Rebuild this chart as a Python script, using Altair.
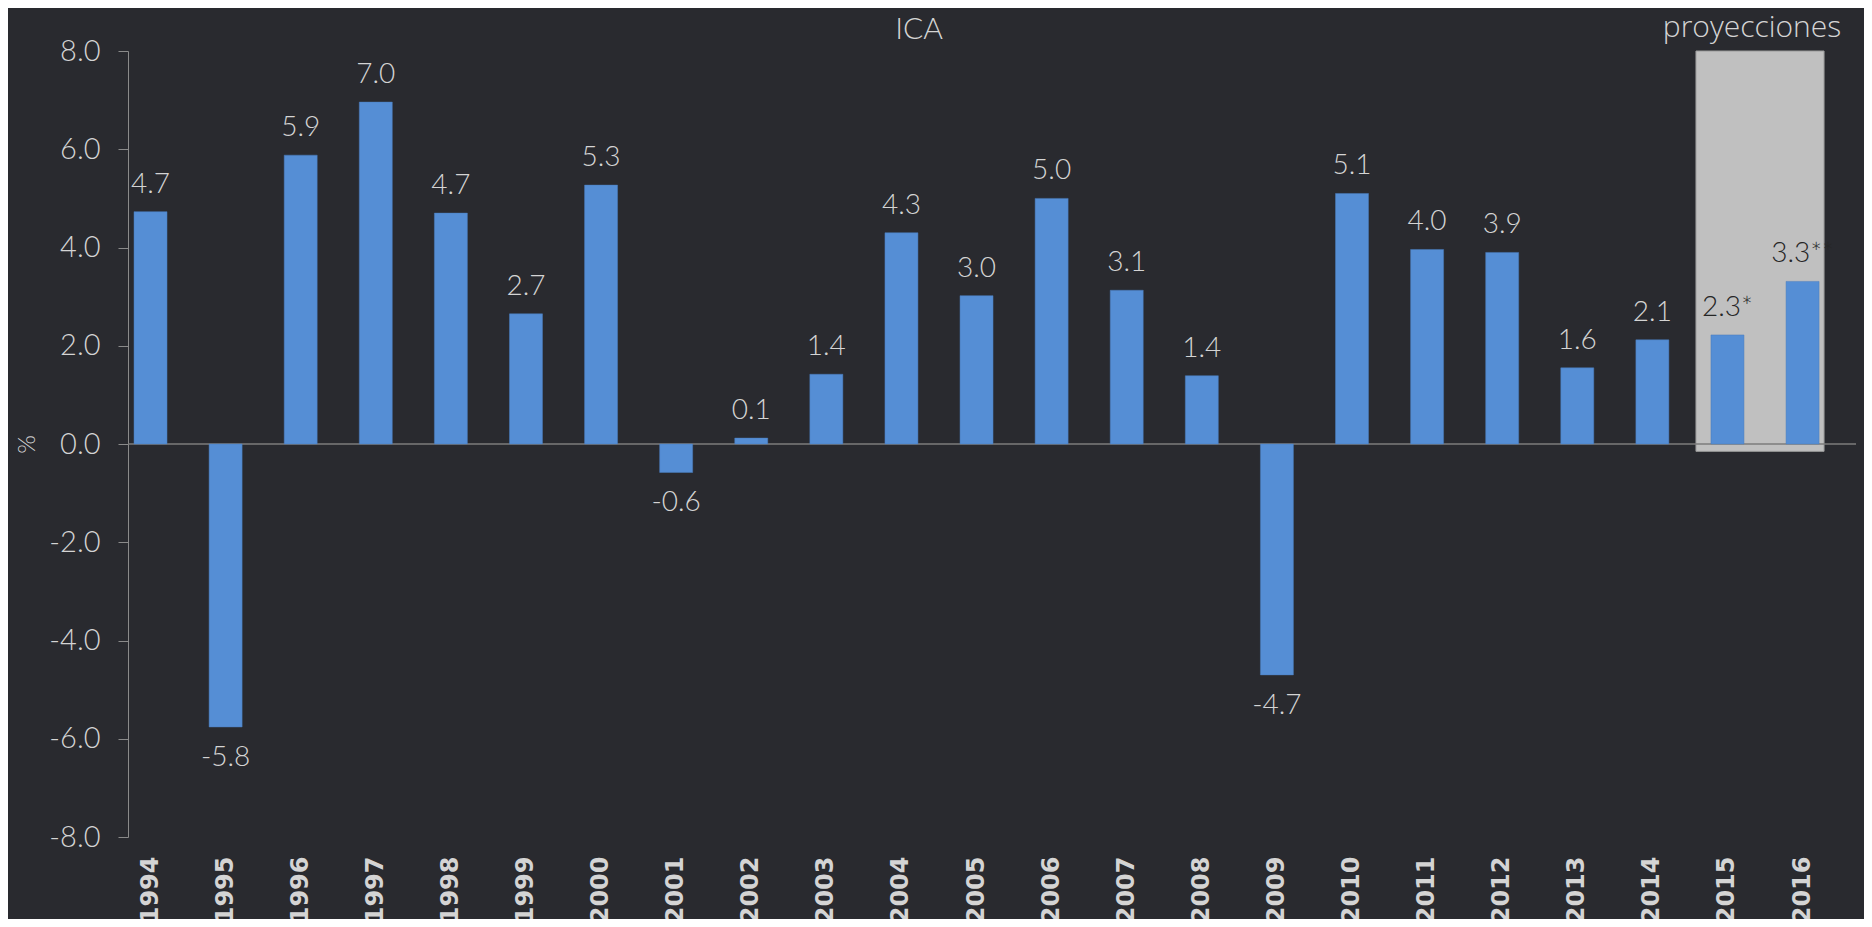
import altair as alt
import pandas as pd

years = [str(y) for y in range(1994, 2017)]
values = [4.73, -5.76, 5.88, 6.96, 4.70, 2.65, 5.27, -0.58, 0.12, 1.42, 4.30, 3.02,
          5.00, 3.13, 1.39, -4.70, 5.10, 3.96, 3.90, 1.55, 2.12, 2.22, 3.31]
labels = ["4.7", "-5.8", "5.9", "7.0", "4.7", "2.7", "5.3", "-0.6", "0.1", "1.4", "4.3", "3.0",
          "5.0", "3.1", "1.4", "-4.7", "5.1", "4.0", "3.9", "1.6", "2.1", "2.3*", "3.3**"]
projected = [False] * 21 + [True, True]

y_ticks = [-8, -6, -4, -2, 0, 2, 4, 6, 8]

BG = "#292a2f"
BAR = "#558ed5"
LIGHT = "#d4d4d4"
DARK = "#262626"

df = pd.DataFrame({
    "year": years,
    "value": values,
    "label": labels,
    "tcolor": [DARK if p else LIGHT for p in projected],
})

box = pd.DataFrame({"year": ["2015"], "year2": ["2016"], "top": [8.0], "bottom": [-0.15]})
notes = pd.DataFrame({"title": ["ICA"], "proj": ["proyecciones"]})

W, H = 1728, 786

xscale = alt.Scale(domain=years, paddingInner=0.5605, paddingOuter=0.286, align=0.14)
yscale = alt.Scale(domain=[-8, 8], nice=False, zero=False)

xaxis = alt.Axis(title=None, labelAngle=-90, labelFont="DejaVu Sans", labelFontWeight="bold",
                 labelFontSize=24, labelColor=LIGHT, ticks=False, domain=False,
                 labelPadding=19, grid=False)
yaxis = alt.Axis(title="%", values=y_ticks,
                 labelExpr="replace(format(datum.value, '.1f'), '\u2212', '-')",
                 labelFont="Lato", labelFontWeight=300,
                 labelFontSize=29, labelColor=LIGHT, tickColor="#8a8a8a", tickSize=10,
                 domainColor="#8a8a8a", domainWidth=1, labelPadding=18, grid=False,
                 titleFont="Lato", titleFontSize=24, titleFontWeight=300, titleColor=LIGHT,
                 titleX=-101, titleY=H / 2, titleAngle=-90, titleAlign="center",
                 titleBaseline="middle")

base = alt.Chart(df)

shade = alt.Chart(box).mark_rect(fill="#c0c0c0", stroke="#9a9a9a", strokeWidth=1,
                                 xOffset=-15, x2Offset=5).encode(
    x=alt.X("year:N", scale=xscale, axis=xaxis, bandPosition=0),
    x2=alt.X2("year2:N", bandPosition=1),
    y=alt.Y("top:Q", scale=yscale, axis=yaxis),
    y2="bottom:Q",
)

bars = base.mark_bar(color=BAR, stroke="#4a7cbc", strokeWidth=0.5).encode(
    x=alt.X("year:N", scale=xscale, axis=xaxis),
    y=alt.Y("value:Q", scale=yscale, axis=yaxis),
)

zero = alt.Chart(notes).mark_rule(color="#7c7c7c", strokeWidth=1.5).encode(
    y=alt.datum(0), x=alt.value(0), x2=alt.value(W)
)

pos_lab = base.transform_filter("datum.value >= 0").mark_text(
    font="Lato", fontWeight=300, fontSize=28, baseline="alphabetic", dy=-19
).encode(
    x=alt.X("year:N", scale=xscale, axis=xaxis),
    y=alt.Y("value:Q", scale=yscale, axis=yaxis),
    text="label:N",
    color=alt.Color("tcolor:N", scale=None),
)

neg_lab = base.transform_filter("datum.value < 0").mark_text(
    font="Lato", fontWeight=300, fontSize=28, baseline="alphabetic", dy=39
).encode(
    x=alt.X("year:N", scale=xscale, axis=xaxis),
    y=alt.Y("value:Q", scale=yscale, axis=yaxis),
    text="label:N",
    color=alt.Color("tcolor:N", scale=None),
)

title_txt = alt.Chart(notes).mark_text(font="Lato", fontWeight=300, fontSize=30, color=LIGHT,
                                       baseline="alphabetic", align="center").encode(
    x=alt.value(791), y=alt.value(-12), text="title:N"
)

proj_txt = alt.Chart(notes).mark_text(font="Open Sans", fontWeight=300, fontSize=30, color=LIGHT,
                                      baseline="alphabetic", align="center").encode(
    x=alt.value(1624), y=alt.value(-14), text="proj:N"
)

chart = alt.layer(shade, zero, bars, pos_lab, neg_lab, title_txt, proj_txt).properties(
    width=W, height=H,
    autosize=alt.AutoSizeParams(type="none"),
    padding={"left": 120, "top": 43, "right": 8, "bottom": 82},
    background=BG,
).configure_view(stroke=None)

chart.save("out.html", embed_options={"renderer": "svg", "actions": False})
